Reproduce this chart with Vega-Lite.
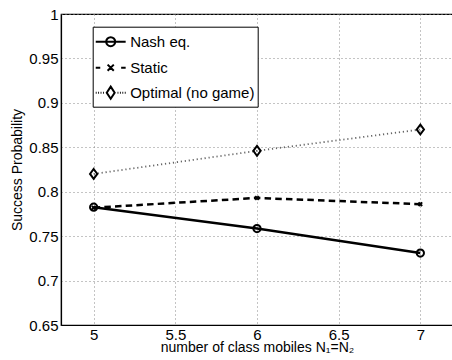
{
  "$schema": "https://vega.github.io/schema/vega-lite/v6.json",
  "width": 392,
  "height": 311,
  "autosize": {"type": "none"},
  "padding": {"left": 61, "top": 14, "right": 0, "bottom": 35},
  "background": "white",
  "config": {
    "font": "Liberation Sans",
    "view": {"stroke": "black", "strokeWidth": 1.2},
    "axis": {
      "domainColor": "black",
      "domainWidth": 1.2,
      "grid": true,
      "gridColor": "#888",
      "gridDash": [1, 3],
      "gridWidth": 1,
      "ticks": false,
      "labelFont": "Liberation Sans",
      "labelFontSize": 15,
      "labelColor": "black",
      "titleFont": "Liberation Sans",
      "titleFontSize": 14,
      "titleFontWeight": "normal",
      "titleColor": "black"
    },
    "legend": {
      "orient": "none",
      "legendX": 31.7,
      "legendY": 12.7,
      "strokeColor": "black",
      "fillColor": "white",
      "padding": 3,
      "labelFontSize": 15,
      "labelColor": "black",
      "labelOffset": 7.5,
      "symbolOffset": 3,
      "rowPadding": 5,
      "symbolSize": 484,
      "symbolStrokeWidth": 2,
      "symbolStrokeColor": "black",
      "symbolOpacity": 1,
      "labelLimit": 250
    }
  },
  "data": {
    "values": [
      {"n": 5, "p": 0.7826, "series": "Nash eq."},
      {"n": 6, "p": 0.7585, "series": "Nash eq."},
      {"n": 7, "p": 0.731, "series": "Nash eq."},
      {"n": 5, "p": 0.782, "series": "Static"},
      {"n": 6, "p": 0.793, "series": "Static"},
      {"n": 7, "p": 0.786, "series": "Static"},
      {"n": 5, "p": 0.820, "series": "Optimal (no game)"},
      {"n": 6, "p": 0.846, "series": "Optimal (no game)"},
      {"n": 7, "p": 0.870, "series": "Optimal (no game)"}
    ]
  },
  "encoding": {
    "x": {
      "field": "n", "type": "quantitative",
      "scale": {"domain": [4.8, 7.2], "nice": false, "zero": false},
      "axis": {"values": [5, 5.5, 6, 6.5, 7], "title": "number of class mobiles N₁=N₂", "labelPadding": 2, "titlePadding": -2, "format": "~g"}
    },
    "y": {
      "field": "p", "type": "quantitative",
      "scale": {"domain": [0.65, 1], "nice": false, "zero": false},
      "axis": {"values": [0.65, 0.7, 0.75, 0.8, 0.85, 0.9, 0.95, 1], "title": "Success Probability", "format": "~g", "labelPadding": 3, "titlePadding": 4}
    }
  },
  "layer": [
    {
      "transform": [{"filter": "datum.series === 'Optimal (no game)'"}],
      "mark": {"type": "line", "color": "#666", "strokeWidth": 1.8, "strokeDash": [1.2, 2.8]}
    },
    {
      "transform": [{"filter": "datum.series === 'Static'"}],
      "mark": {"type": "line", "color": "black", "strokeWidth": 2.5, "strokeDash": [6.5, 4.2]}
    },
    {
      "transform": [{"filter": "datum.series === 'Nash eq.'"}],
      "mark": {"type": "line", "color": "black", "strokeWidth": 2.5}
    },
    {
      "mark": {"type": "point", "filled": false, "stroke": "black", "strokeWidth": 2, "size": 53, "opacity": 0},
      "encoding": {
        "shape": {
          "field": "series", "type": "nominal", "title": null,
          "scale": {"domain": ["Nash eq.", "Static", "Optimal (no game)"], "range": [
            "M-1.36,0L1.36,0M-0.41,0A0.41,0.41 0 1,0 0.41,0A0.41,0.41 0 1,0 -0.41,0",
            "M-1.36,0L-0.95,0M0.95,0L1.36,0M-0.28,-0.28L0.28,0.28M-0.28,0.28L0.28,-0.28",
            "M-1.36,0L-1.28,0M-1.14,0L-1.06,0M-0.92,0L-0.84,0M-0.7,0L-0.62,0M0.62,0L0.7,0M0.84,0L0.92,0M1.06,0L1.14,0M1.28,0L1.36,0M0,-0.55L0.36,0L0,0.55L-0.36,0Z"
          ]}
        }
      }
    },
    {
      "mark": {"type": "point", "filled": false, "stroke": "black", "strokeWidth": 2, "size": 53, "opacity": 1},
      "encoding": {
        "shape": {
          "field": "series", "type": "nominal", "legend": null,
          "scale": {"domain": ["Nash eq.", "Static", "Optimal (no game)"], "range": ["circle", "M-0.5,-0.5L0.5,0.5M-0.5,0.5L0.5,-0.5", "M0,-1.35L1,0L0,1.35L-1,0Z"]}
        }
      }
    }
  ],
  "resolve": {"scale": {"shape": "independent"}, "legend": {"shape": "independent"}}
}
